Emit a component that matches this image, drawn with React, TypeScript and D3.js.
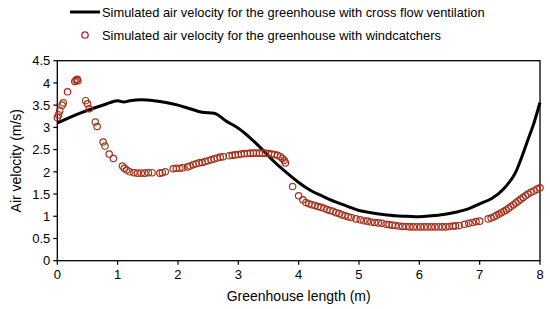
import React from "react";
import * as d3 from "d3";

// cross flow ventilation (black line)
const crossX = [0, 0.2, 0.4, 0.6, 0.8, 1.0, 1.1, 1.2, 1.4, 1.6, 1.8, 2.0, 2.2, 2.4, 2.6, 2.8, 3.0, 3.2, 3.4, 3.6, 3.8, 4.0, 4.2, 4.4, 4.6, 4.8, 5.0, 5.2, 5.4, 5.6, 5.8, 6.0, 6.2, 6.4, 6.6, 6.8, 7.0, 7.2, 7.4, 7.6, 7.7, 7.8, 7.9, 8.0];
const crossY = [3.1, 3.22, 3.33, 3.43, 3.52, 3.6, 3.57, 3.6, 3.62, 3.6, 3.56, 3.5, 3.42, 3.34, 3.32, 3.14, 2.98, 2.76, 2.5, 2.22, 1.98, 1.76, 1.58, 1.45, 1.33, 1.23, 1.13, 1.08, 1.04, 1.01, 1.0, 0.99, 1.01, 1.04, 1.09, 1.16, 1.28, 1.4, 1.62, 2.0, 2.34, 2.72, 3.1, 3.56];

// windcatchers (open circles)
const windX = [
  0, 0.02, 0.04, 0.08, 0.1, 0.17, 0.29, 0.31, 0.33, 0.34, 0.47, 0.5, 0.53, 0.63, 0.66, 0.76, 0.79, 0.86, 0.93,
  1.08, 1.11, 1.15, 1.2, 1.27, 1.33, 1.39, 1.45, 1.51, 1.57, 1.7, 1.74, 1.79,
  1.92, 1.97, 2.03, 2.08, 2.16, 2.2, 2.25, 2.3, 2.35, 2.4, 2.45, 2.5, 2.55, 2.6, 2.65, 2.7, 2.75, 2.85, 2.9, 2.95, 3.0,
  3.05, 3.1, 3.15, 3.2, 3.25, 3.3, 3.35, 3.4, 3.45, 3.5, 3.55, 3.6, 3.65, 3.7, 3.73, 3.76, 3.78, 3.9,
  4.0, 4.07, 4.12, 4.17, 4.22, 4.27, 4.32, 4.37, 4.42, 4.47, 4.52, 4.57, 4.62, 4.67, 4.72, 4.77, 4.82, 4.87, 4.95,
  5.02, 5.08, 5.14, 5.2, 5.26, 5.32, 5.38, 5.45, 5.5, 5.55, 5.6, 5.66, 5.72, 5.78, 5.84, 5.9, 5.96,
  6.02, 6.08, 6.14, 6.2, 6.26, 6.32, 6.38, 6.44, 6.5, 6.56, 6.6, 6.66, 6.75, 6.82, 6.88, 6.94, 7.0,
  7.14, 7.19, 7.24, 7.28, 7.32, 7.36, 7.4, 7.44, 7.48, 7.52, 7.56, 7.6, 7.64, 7.68, 7.72, 7.76, 7.8, 7.85, 7.9, 7.95, 8.0,
];
const windY = [
  3.22, 3.28, 3.37, 3.5, 3.55, 3.8, 4.03, 4.06, 4.08, 4.05, 3.6, 3.53, 3.42, 3.12, 3.02, 2.67, 2.58, 2.4, 2.3,
  2.13, 2.08, 2.04, 2.0, 1.98, 1.97, 1.97, 1.97, 1.98, 1.98, 1.97, 1.98, 2.0,
  2.07, 2.08, 2.08, 2.09, 2.11, 2.13, 2.16, 2.18, 2.2, 2.21, 2.23, 2.25, 2.27, 2.29, 2.31, 2.33, 2.34, 2.36, 2.37, 2.38, 2.39,
  2.4, 2.41, 2.41, 2.42, 2.42, 2.42, 2.42, 2.42, 2.42, 2.41, 2.4, 2.39, 2.37, 2.34, 2.3, 2.26, 2.2, 1.67,
  1.46, 1.37, 1.31, 1.28, 1.26, 1.24, 1.22, 1.2, 1.18, 1.15, 1.13, 1.11, 1.08, 1.06, 1.03, 1.01, 0.99, 0.97, 0.94,
  0.92, 0.9, 0.89, 0.87, 0.86, 0.85, 0.84, 0.82, 0.81, 0.8, 0.79, 0.78, 0.77, 0.77, 0.76, 0.76, 0.76,
  0.76, 0.76, 0.76, 0.76, 0.76, 0.76, 0.76, 0.76, 0.77, 0.78, 0.78, 0.79, 0.82, 0.84, 0.86, 0.88, 0.89,
  0.94, 0.96, 0.99, 1.02, 1.05, 1.08, 1.11, 1.14, 1.18, 1.22, 1.26, 1.3, 1.34, 1.38, 1.42, 1.46, 1.5, 1.54, 1.57, 1.61, 1.64,
];

const xTicks = [0, 1, 2, 3, 4, 5, 6, 7, 8];
const yTicks = [0, 0.5, 1, 1.5, 2, 2.5, 3, 3.5, 4, 4.5];

const legendLabels = [
  "Simulated air velocity for the greenhouse with cross flow ventilation",
  "Simulated air velocity for the greenhouse with windcatchers",
];

const W = 550, H = 309;
const margin = { left: 57.3, right: 10, top: 60.7, bottom: 48.3 };
const font = "'Liberation Sans', Arial, sans-serif";

export default function App() {
  const x = d3.scaleLinear().domain([0, 8]).range([margin.left, W - margin.right]);
  const y = d3.scaleLinear().domain([0, 4.5]).range([H - margin.bottom, margin.top]);

  const crossData = crossX.map((v, i) => [v, crossY[i]] as [number, number]);
  const windData = windX.map((v, i) => ({ x: v, y: windY[i] }));

  const line = d3.line<[number, number]>()
    .x(d => x(d[0]))
    .y(d => y(d[1]))
    .curve(d3.curveMonotoneX);

  const x0 = x(0), x1 = x(8), y0 = y(0), y1 = y(4.5);

  return (
    <svg width={W} height={H} style={{ position: "absolute", left: 0, top: 0, background: "#fff" }}>
      {/* legend */}
      <line x1={70} x2={100} y1={12} y2={12} stroke="#000" strokeWidth={3} />
      <text x={102} y={16.8} fontFamily={font} fontSize={12.9} fill="#000">{legendLabels[0]}</text>
      <circle cx={85} cy={35} r={3.2} fill="#fff" stroke="#a52a2a" strokeWidth={1.3} />
      <text x={102} y={39.8} fontFamily={font} fontSize={12.9} fill="#000">{legendLabels[1]}</text>

      {/* frame */}
      <rect x={x0} y={y1} width={x1 - x0} height={y0 - y1} fill="none" stroke="#000" strokeWidth={1.3} />

      {/* y axis */}
      {yTicks.map(t => (
        <g key={"y" + t}>
          <line x1={x0 - 4} x2={x0} y1={y(t)} y2={y(t)} stroke="#000" strokeWidth={1.2} />
          <text x={x0 - 7} y={y(t) + 4.7} textAnchor="end" fontFamily={font} fontSize={13} fill="#000">{t}</text>
        </g>
      ))}
      {/* x axis */}
      {xTicks.map(t => (
        <g key={"x" + t}>
          <line x1={x(t)} x2={x(t)} y1={y0} y2={y0 + 4} stroke="#000" strokeWidth={1.2} />
          <text x={x(t)} y={y0 + 18.5} textAnchor="middle" fontFamily={font} fontSize={13} fill="#000">{t}</text>
        </g>
      ))}

      <text x={(x0 + x1) / 2} y={300.5} textAnchor="middle" fontFamily={font} fontSize={14} fill="#000">Greenhouse length (m)</text>
      <text transform={`translate(21,${(y0 + y1) / 2}) rotate(-90)`} textAnchor="middle" fontFamily={font} fontSize={14} fill="#000">Air velocity (m/s)</text>

      {/* series */}
      <path d={line(crossData) || ""} fill="none" stroke="#000" strokeWidth={3} strokeLinejoin="round" />
      {windData.map((d, i) => (
        <circle key={i} cx={x(d.x)} cy={y(d.y)} r={3.2} fill="#fff" fillOpacity={0} stroke={i % 3 === 1 ? "#8a4a1c" : "#b0241c"} strokeWidth={1.2} />
      ))}
    </svg>
  );
}
